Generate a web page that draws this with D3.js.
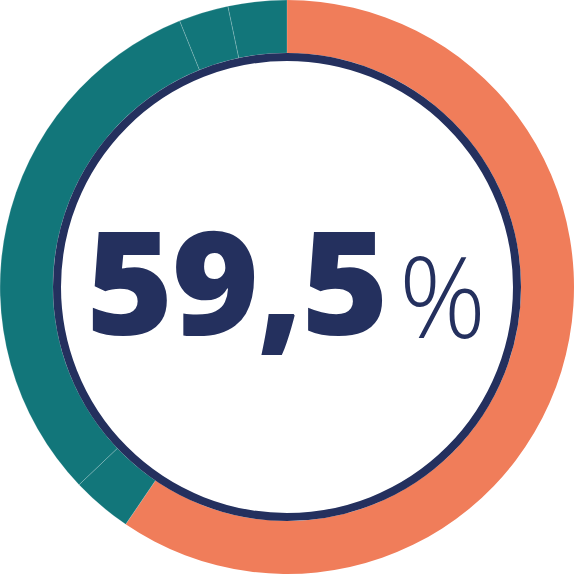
<!DOCTYPE html>
<html>
<head>
<meta charset="utf-8">
<script src="https://cdn.jsdelivr.net/npm/d3@7"></script>
<style>
  html, body { margin: 0; padding: 0; background: #fff; }
  svg { display: block; }
</style>
</head>
<body>
<div id="chart"></div>
<script>
// shares in percent, clockwise from the top
var segments = ["Ja", "Teil 1", "Teil 2", "Teil 3", "Teil 4"];
var values = [59.5, 3.4, 31.0, 2.8, 3.3];
var colors = ["#F07D5A", "#12767A", "#12767A", "#12767A", "#12767A"];
var label = "59,5";
var unit = "%";

var width = 574, height = 574,
    cx = 287, cy = 287,
    outerR = 287, innerR = 234;

var svg = d3.select("#chart")
  .append("svg")
    .attr("width", width)
    .attr("height", height);

var g = svg.append("g")
    .attr("transform", "translate(" + cx + "," + cy + ")");

var pie = d3.pie()
    .sort(null)
    .value(function (d) { return d; });

var arc = d3.arc()
    .innerRadius(innerR)
    .outerRadius(outerR);

g.selectAll("path.slice")
  .data(pie(values))
  .enter()
  .append("path")
    .attr("class", "slice")
    .attr("d", arc)
    .attr("fill", function (d, i) { return colors[i]; })
    .attr("stroke", function (d, i) { return i === 0 ? "none" : "rgba(255,255,255,0.3)"; })
    .attr("stroke-width", 0.6);

// navy ring inside the donut
g.append("circle")
    .attr("r", 230)
    .attr("fill", "#fff")
    .attr("stroke", "#24305E")
    .attr("stroke-width", 8);

// central number, stretched to the width of the original lettering
var num = g.append("text")
    .attr("fill", "#24305E")
    .attr("font-family", "Open Sans")
    .attr("font-weight", 800)
    .attr("font-size", 143)
    .attr("letter-spacing", -2)
    .text(label);

var bb = num.node().getBBox();
var sx = 301 / bb.width;
num.attr("transform", "translate(" + (-201 - bb.x * sx) + ",48) scale(" + sx + ",1)");

var pct = g.append("text")
    .attr("fill", "#24305E")
    .attr("font-family", "Open Sans")
    .attr("font-weight", 300)
    .attr("font-size", 112)
    .text(unit);

var pb = pct.node().getBBox();
var px = 87 / pb.width;
pct.attr("transform", "translate(" + (112 - pb.x * px) + ",51) scale(" + px + ",1)");
</script>
</body>
</html>
